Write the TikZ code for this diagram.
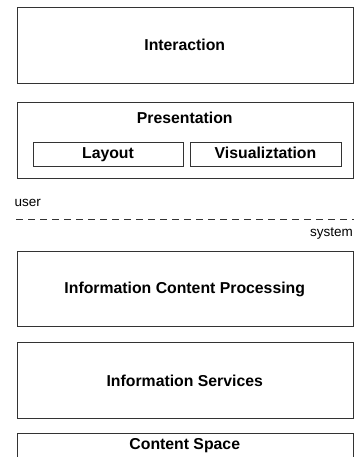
\documentclass[tikz,border=0pt]{standalone}
\usepackage{fontspec}
\setmainfont{Liberation Sans}
\begin{document}
\begin{tikzpicture}[x=1pt,y=-1pt,
  layerbox/.style={draw=black!80,line width=0.8pt,rectangle,inner sep=0pt,anchor=north west},
  boldlabel/.style={font=\fontsize{15.8}{19}\selectfont\bfseries,inner sep=0pt,text height=11.3pt,text depth=0pt},
  smalllabel/.style={font=\fontsize{13.5}{16}\selectfont,inner sep=0pt}]
\useasboundingbox (0,0) rectangle (354,457);
\clip (0,0) rectangle (354,457);
% layer boxes
\node[layerbox,minimum width=336.5pt,minimum height=76.3pt] (inter) at (16.5,6.7) {};
\node[boldlabel] (intertext) at (184.75,44.7) {Interaction};
\node[layerbox,minimum width=336.5pt,minimum height=76pt] (pres) at (16.5,102) {};
\node[boldlabel] (prestext) at (184.75,117.8) {Presentation};
\node[layerbox,minimum width=150.6pt,minimum height=24.3pt] (layout) at (32.7,141.7) {};
\node[boldlabel] (layouttext) at (108,153) {Layout};
\node[layerbox,minimum width=151pt,minimum height=24.3pt] (vis) at (190,141.7) {};
\node[boldlabel] (vistext) at (265.5,153) {Visualiztation};
% user/system divider
\node[smalllabel,anchor=base west] (user) at (14.5,206.7) {user};
\coordinate (dl) at (16,219.3);
\coordinate (dr) at (354,219.3);
\draw[black!80,line width=0.8pt,dash pattern=on 7pt off 5pt] (dl) -- (dr);
\node[smalllabel,anchor=base east] (system) at (353,236.5) {system};
% lower layers
\node[layerbox,minimum width=336.5pt,minimum height=75.5pt] (icp) at (16.5,250.5) {};
\node[boldlabel] (icptext) at (184.75,287.8) {Information Content Processing};
\node[layerbox,minimum width=336.5pt,minimum height=76.6pt] (is) at (16.5,341.7) {};
\node[boldlabel] (istext) at (184.75,380.7) {Information Services};
\node[layerbox,minimum width=336.5pt,minimum height=40pt] (cs) at (16.5,433.3) {};
\node[boldlabel] (cstext) at (184.75,443.8) {Content Space};
\end{tikzpicture}
\end{document}
